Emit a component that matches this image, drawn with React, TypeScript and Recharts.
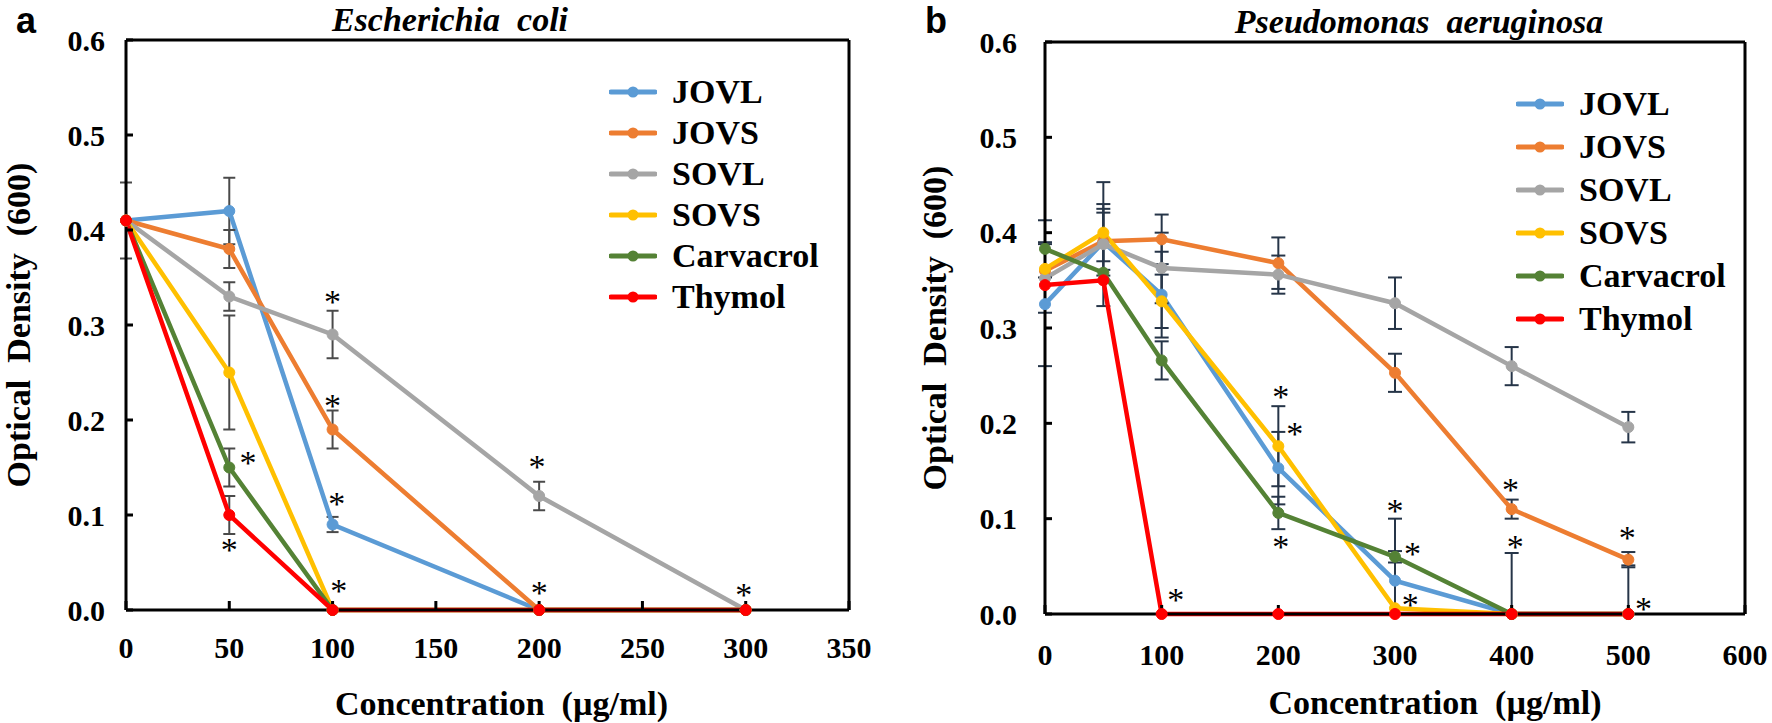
import React from 'react';
import {
  ComposedChart,
  ErrorBar,
  Legend,
  Line,
  ReferenceLine,
  Scatter,
  XAxis,
  YAxis,
} from 'recharts';

type Err = number | [number, number];
type Row = Record<string, number | Err>;

const SERIF = '"Liberation Serif", "Times New Roman", serif';
const SANS = '"Liberation Sans", Arial, sans-serif';

const SERIES = ['JOVL', 'JOVS', 'SOVL', 'SOVS', 'Carvacrol', 'Thymol'];
const COLORS = ['#5B9BD5', '#ED7D31', '#A5A5A5', '#FFC000', '#548235', '#FF0000'];
const OD_TICKS = [0, 0.1, 0.2, 0.3, 0.4, 0.5, 0.6];

// panel a - Escherichia coli
const EC_CONC = [0, 50, 100, 200, 300];
const EC_TICKS = [0, 50, 100, 150, 200, 250, 300, 350];
const EC_JOVL = [0.41, 0.42, 0.09, 0, 0];
const EC_JOVS = [0.41, 0.38, 0.19, 0, 0];
const EC_SOVL = [0.41, 0.33, 0.29, 0.12, 0];
const EC_SOVS = [0.41, 0.25, 0, 0, 0];
const EC_CARV = [0.41, 0.15, 0, 0, 0];
const EC_THYM = [0.41, 0.1, 0, 0, 0];
const EC_JOVL_ERR: Err[] = [0, 0.035, 0.008, 0, 0];
const EC_JOVS_ERR: Err[] = [0, 0.02, 0.02, 0, 0];
const EC_SOVL_ERR: Err[] = [0.04, 0.015, 0.025, 0.015, 0];
const EC_SOVS_ERR: Err[] = [0, 0.06, 0, 0, 0];
const EC_CARV_ERR: Err[] = [0, 0.02, 0, 0, 0];
const EC_THYM_ERR: Err[] = [0, 0.02, 0, 0, 0];
// significance marks (concentration, OD)
const EC_STARS = [
  { x: 100, y: 0.33 }, { x: 100, y: 0.22 }, { x: 59, y: 0.16 }, { x: 50, y: 0.068 },
  { x: 102, y: 0.117 }, { x: 103, y: 0.025 }, { x: 199, y: 0.156 }, { x: 200, y: 0.023 },
  { x: 299, y: 0.021 },
];

// panel b - Pseudomonas aeruginosa
const PA_CONC = [0, 50, 100, 200, 300, 400, 500];
const PA_TICKS = [0, 100, 200, 300, 400, 500, 600];
const PA_JOVL = [0.325, 0.39, 0.335, 0.153, 0.035, 0, 0];
const PA_JOVS = [0.36, 0.391, 0.393, 0.368, 0.253, 0.11, 0.057];
const PA_SOVL = [0.352, 0.388, 0.363, 0.356, 0.326, 0.26, 0.196];
const PA_SOVS = [0.362, 0.4, 0.328, 0.176, 0.006, 0, 0];
const PA_CARV = [0.383, 0.358, 0.266, 0.106, 0.06, 0, 0];
const PA_THYM = [0.345, 0.35, 0, 0, 0, 0, 0];
const PA_JOVL_ERR: Err[] = [0.065, 0.035, 0.045, 0.038, [0.035, 0.065], [0, 0.064], [0, 0.051]];
const PA_JOVS_ERR: Err[] = [0, 0.03, 0.026, 0.027, 0.02, 0.01, 0.008];
const PA_SOVL_ERR: Err[] = [0.036, 0.065, 0.037, 0.02, 0.027, 0.02, 0.016];
const PA_SOVS_ERR: Err[] = [0, 0.03, 0.028, 0.042, 0, 0, 0];
const PA_CARV_ERR: Err[] = [0.03, 0, 0.02, 0.017, 0.006, 0, 0];
const PA_THYM_ERR: Err[] = [0, 0, 0, 0, 0, 0, 0];
const PA_STARS = [
  { x: 112, y: 0.02 }, { x: 202, y: 0.233 }, { x: 214, y: 0.194 }, { x: 202, y: 0.076 },
  { x: 300, y: 0.113 }, { x: 315, y: 0.068 }, { x: 313, y: 0.015 }, { x: 399, y: 0.135 },
  { x: 403, y: 0.076 }, { x: 499, y: 0.085 }, { x: 513, y: 0.011 },
];

const buildRows = (conc: number[], values: number[][], errs: Err[][]): Row[] =>
  conc.map((x, i) => {
    const row: Row = { x };
    SERIES.forEach((s, k) => {
      row[s] = values[k][i];
      row[`${s}_err`] = errs[k][i];
    });
    return row;
  });

const EC_ROWS = buildRows(
  EC_CONC,
  [EC_JOVL, EC_JOVS, EC_SOVL, EC_SOVS, EC_CARV, EC_THYM],
  [EC_JOVL_ERR, EC_JOVS_ERR, EC_SOVL_ERR, EC_SOVS_ERR, EC_CARV_ERR, EC_THYM_ERR]
);
const PA_ROWS = buildRows(
  PA_CONC,
  [PA_JOVL, PA_JOVS, PA_SOVL, PA_SOVS, PA_CARV, PA_THYM],
  [PA_JOVL_ERR, PA_JOVS_ERR, PA_SOVL_ERR, PA_SOVS_ERR, PA_CARV_ERR, PA_THYM_ERR]
);

const TICK = { fill: '#000', fontSize: 30, fontWeight: 'bold', fontFamily: SERIF };
const AXIS = { stroke: '#000', strokeWidth: 3 };

const Star = (p: any) => (
  <text x={p.cx} y={p.cy + 16} textAnchor="middle" fontSize={34} fontFamily={SERIF} fill="#000">
    *
  </text>
);

const LegendBox = ({ rowH }: { rowH: number }) => (
  <div style={{ fontFamily: SERIF, fontWeight: 'bold', fontSize: 34, color: '#000' }}>
    {SERIES.map((name, i) => (
      <div key={name} style={{ display: 'flex', alignItems: 'center', height: rowH }}>
        <svg width={48} height={14}>
          <line x1={2} y1={7} x2={46} y2={7} stroke={COLORS[i]} strokeWidth={5} strokeLinecap="round" />
          <circle cx={24} cy={7} r={5.5} fill={COLORS[i]} />
        </svg>
        <span style={{ marginLeft: 15, lineHeight: 1 }}>{name}</span>
      </div>
    ))}
  </div>
);

interface PanelProps {
  left: number;
  width: number;
  margin: { top: number; right: number; bottom: number; left: number };
  rows: Row[];
  stars: { x: number; y: number }[];
  xTicks: number[];
  xMax: number;
  errColor: string;
  capW: number;
  yTickMargin: number;
  xTickMargin: number;
  yTitleGap: number;
  xTitleDx: number;
  xTitleDy: number;
  legend: { left: number; top: number; rowH: number };
}

const Panel: React.FC<PanelProps> = (p) => {
  const yTitle = (props: any) => {
    const vb = props.viewBox;
    const cx = vb.x + vb.width - p.yTitleGap;
    const cy = vb.y + vb.height / 2;
    return (
      <text
        x={cx}
        y={cy}
        transform={`rotate(-90 ${cx} ${cy})`}
        textAnchor="middle"
        dominantBaseline="central"
        fontSize={34}
        fontWeight="bold"
        fontFamily={SERIF}
        fill="#000"
        style={{ whiteSpace: 'pre' }}
      >
        {'Optical  Density  (600)'}
      </text>
    );
  };
  const xTitle = (props: any) => {
    const vb = props.viewBox;
    const cx = vb.x + vb.width / 2 + p.xTitleDx;
    const cy = vb.y + p.xTitleDy;
    return (
      <text
        x={cx}
        y={cy}
        textAnchor="middle"
        dominantBaseline="central"
        fontSize={34}
        fontWeight="bold"
        fontFamily={SERIF}
        fill="#000"
        style={{ whiteSpace: 'pre' }}
      >
        {'Concentration  (µg/ml)'}
      </text>
    );
  };

  return (
    <div style={{ position: 'absolute', left: p.left, top: 0 }}>
      <ComposedChart width={p.width} height={723} data={p.rows} margin={p.margin}>
        <XAxis
          type="number"
          dataKey="x"
          domain={[0, p.xMax]}
          ticks={p.xTicks}
          interval={0}
          height={60}
          axisLine={AXIS}
          tickLine={AXIS}
          tickSize={-9}
          tickMargin={p.xTickMargin}
          tick={TICK}
          label={xTitle}
        />
        <YAxis
          type="number"
          domain={[0, 0.6]}
          ticks={OD_TICKS}
          interval={0}
          width={90}
          axisLine={AXIS}
          tickLine={AXIS}
          tickSize={-7}
          tickMargin={p.yTickMargin}
          tick={TICK}
          tickFormatter={(v: number) => v.toFixed(1)}
          label={yTitle}
        />
        <ReferenceLine y={0.6} stroke="#000" strokeWidth={3} />
        <ReferenceLine x={p.xMax} stroke="#000" strokeWidth={3} />
        {SERIES.map((s, k) => (
          <Line
            key={s}
            dataKey={s}
            type="linear"
            stroke={COLORS[k]}
            strokeWidth={4.5}
            dot={{ r: 5.5, fill: COLORS[k], stroke: COLORS[k], strokeWidth: 1 }}
            activeDot={false}
            isAnimationActive={false}
          >
            <ErrorBar dataKey={`${s}_err`} width={p.capW} strokeWidth={2} stroke={p.errColor} direction="y" />
          </Line>
        ))}
        <Scatter data={p.stars} dataKey="y" shape={Star} isAnimationActive={false} />
        <Legend
          layout="vertical"
          align="center"
          verticalAlign="middle"
          wrapperStyle={{ left: p.legend.left, top: p.legend.top, width: 240 }}
          content={() => <LegendBox rowH={p.legend.rowH} />}
        />
      </ComposedChart>
    </div>
  );
};

const heading = (x: number, top: number, width: number, size: number, family: string, italic: boolean) => ({
  position: 'absolute' as const,
  left: x,
  top,
  width,
  fontSize: size,
  lineHeight: 1.1,
  fontFamily: family,
  fontWeight: 'bold' as const,
  fontStyle: italic ? 'italic' : 'normal',
  textAlign: 'center' as const,
  whiteSpace: 'pre' as const,
  color: '#000',
});

export default function App() {
  return (
    <div style={{ position: 'absolute', left: 0, top: 0, width: 1772, height: 723, background: '#fff' }}>
      <Panel
        left={0}
        width={880}
        margin={{ top: 40, right: 31, bottom: 53, left: 36 }}
        rows={EC_ROWS}
        stars={EC_STARS}
        xTicks={EC_TICKS}
        xMax={350}
        errColor="#4a4a4a"
        capW={6}
        yTickMargin={28}
        xTickMargin={36}
        yTitleGap={108}
        xTitleDx={14}
        xTitleDy={93}
        legend={{ left: 609, top: 71, rowH: 41 }}
      />
      <Panel
        left={880}
        width={892}
        margin={{ top: 42, right: 27, bottom: 49, left: 75 }}
        rows={PA_ROWS}
        stars={PA_STARS}
        xTicks={PA_TICKS}
        xMax={600}
        errColor="#263548"
        capW={7}
        yTickMargin={35}
        xTickMargin={39}
        yTitleGap={111}
        xTitleDx={40}
        xTitleDy={88}
        legend={{ left: 636, top: 82, rowH: 43 }}
      />
      <div style={heading(6, 1, 40, 36, SANS, false)}>a</div>
      <div style={heading(916, 1, 40, 36, SANS, false)}>b</div>
      <div style={heading(150, 1, 600, 34, SERIF, true)}>{'Escherichia  coli'}</div>
      <div style={heading(1119, 3, 600, 34, SERIF, true)}>{'Pseudomonas  aeruginosa'}</div>
    </div>
  );
}
